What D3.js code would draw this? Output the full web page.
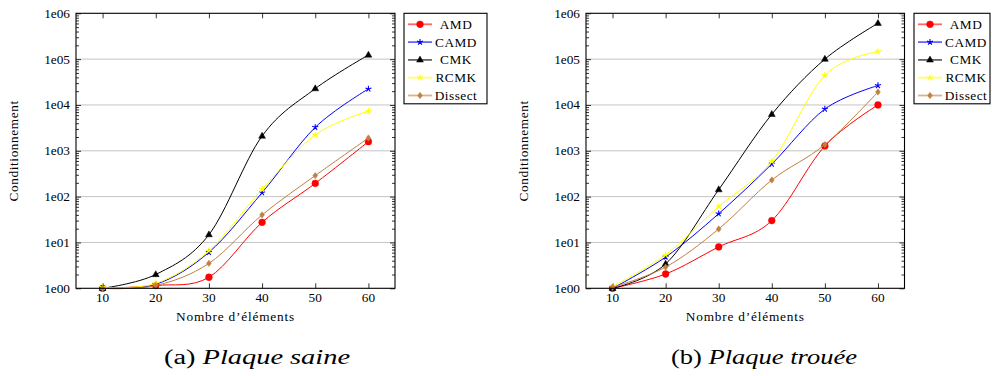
<!DOCTYPE html>
<html>
<head>
<meta charset="utf-8">
<script src="https://cdn.jsdelivr.net/npm/d3@7"></script>
<style>
  html, body { margin: 0; padding: 0; background: #fff; }
  svg { display: block; }
</style>
</head>
<body>
<svg id="chart" width="992" height="376" font-family="'Liberation Serif', 'Times New Roman', Tinos, 'DejaVu Serif', serif"></svg>
<script>
// ---------- data ----------
const xValues = [10, 20, 30, 40, 50, 60];
const xTickLabels = ["10", "20", "30", "40", "50", "60"];
const yTickValues = [1, 10, 100, 1000, 10000, 100000, 1000000];
const yTickLabels = ["1e00", "1e01", "1e02", "1e03", "1e04", "1e05", "1e06"];
const seriesNames = ["AMD", "CAMD", "CMK", "RCMK", "Dissect"];

// (a) Plaque saine
const saineAMD     = [1, 1.15, 1.74, 27.5, 195, 1585];
const saineCAMD    = [1, 1.22, 6.1, 122, 3250, 22400];
const saineCMK     = [1, 2.0, 14.8, 2100, 22700, 123000];
const saineRCMK    = [1.05, 1.28, 6.6, 145, 2230, 7300];
const saineDissect = [1, 1.15, 3.5, 40, 288, 1900];

// (b) Plaque trouée
const troueeAMD     = [1, 2.05, 8, 30, 1275, 10000];
const troueeCAMD    = [1, 4.8, 42.5, 515, 8150, 26500];
const troueeCMK     = [1, 3.4, 142, 6250, 100000, 605000];
const troueeRCMK    = [1.1, 5.4, 61, 590, 44500, 146000];
const troueeDissect = [1.05, 2.9, 19.7, 230, 1365, 19200];

const captionA = ["(a) ", "Plaque saine"];
const captionB = ["(b) ", "Plaque trouée"];
const xTitle = "Nombre d’éléments";
const yTitle = "Conditionnement";

// ---------- styles ----------
const FONT = "'Liberation Serif', 'Times New Roman', Tinos, 'DejaVu Serif', serif";
const colors = { AMD: "#ff0000", CAMD: "#0000ff", CMK: "#000000", RCMK: "#ffff00", Dissect: "#bf8040" };
const marks  = { AMD: "circle", CAMD: "star", CMK: "triangle", RCMK: "star", Dissect: "diamond" };

const svg = d3.select("#chart");

function markPath(type, r) {
  const p = d3.path();
  if (type === "circle") {
    p.arc(0, 0, r, 0, 2 * Math.PI);
  } else if (type === "triangle") {
    p.moveTo(0, -r * 1.05);
    p.lineTo(r * 0.95, r * 0.6);
    p.lineTo(-r * 0.95, r * 0.6);
    p.closePath();
  } else if (type === "diamond") {
    p.moveTo(0, -r);
    p.lineTo(r * 0.75, 0);
    p.lineTo(0, r);
    p.lineTo(-r * 0.75, 0);
    p.closePath();
  } else if (type === "star") {
    for (let k = 0; k < 5; k++) {
      const a = -Math.PI / 2 + k * 2 * Math.PI / 5;
      p.moveTo(0, 0);
      p.lineTo(r * Math.cos(a), r * Math.sin(a));
    }
  }
  return p.toString();
}

function drawMark(g, type, color, x, y) {
  const r = type === "circle" ? 3.4 : type === "triangle" ? 3.6 : 3.2;
  const el = g.append("path")
    .attr("d", markPath(type, r))
    .attr("transform", `translate(${x},${y})`);
  if (type === "star") {
    el.attr("fill", "none").attr("stroke", color).attr("stroke-width", 1.1);
  } else {
    el.attr("fill", color).attr("stroke", color).attr("stroke-width", 0.5);
  }
}

function txt(g) {
  return g.append("text").attr("font-family", FONT).attr("fill", "#000");
}

function drawPanel(opts) {
  const { left, right, top, bottom, series, caption, captionX, legend } = opts;
  const g = svg.append("g");
  const x = d3.scaleLinear().domain([5, 65]).range([left, right]);
  const y = d3.scaleLog().domain([1, 1e6]).range([bottom, top]);

  // grid
  g.append("g").selectAll("line").data(yTickValues.slice(1, -1)).join("line")
    .attr("x1", left).attr("x2", right)
    .attr("y1", d => y(d)).attr("y2", d => y(d))
    .attr("stroke", "#c4c4c4").attr("stroke-width", 1);

  const minorTicks = [];
  for (let e = 0; e < 6; e++) for (let m = 2; m <= 9; m++) minorTicks.push(m * Math.pow(10, e));

  const yLeft = d3.axisRight(y).tickValues(yTickValues).tickFormat("").tickSize(5);
  const yLeftMinor = d3.axisRight(y).tickValues(minorTicks).tickFormat("").tickSize(3);
  const yRight = d3.axisLeft(y).tickValues(yTickValues).tickFormat("").tickSize(5);
  const yRightMinor = d3.axisLeft(y).tickValues(minorTicks).tickFormat("").tickSize(3);
  [[yLeft, left], [yLeftMinor, left], [yRight, right], [yRightMinor, right]].forEach(([ax, px]) => {
    const a = g.append("g").attr("transform", `translate(${px},0)`).call(ax);
    a.select(".domain").remove();
    a.selectAll("line").attr("stroke", "#000").attr("stroke-width", 0.8);
  });

  const xBottom = d3.axisTop(x).tickValues(xValues).tickFormat("").tickSize(5);
  const xTop = d3.axisBottom(x).tickValues(xValues).tickFormat("").tickSize(5);
  [[xBottom, bottom], [xTop, top]].forEach(([ax, py]) => {
    const a = g.append("g").attr("transform", `translate(0,${py})`).call(ax);
    a.select(".domain").remove();
    a.selectAll("line").attr("stroke", "#000").attr("stroke-width", 0.8);
  });

  // tick labels
  g.append("g").selectAll("text").data(yTickValues).join("text")
    .attr("font-family", FONT)
    .attr("x", left - 6).attr("y", d => y(d)).attr("dy", "0.34em")
    .attr("text-anchor", "end").attr("font-size", 13.3)
    .text((d, i) => yTickLabels[i]);
  g.append("g").selectAll("text").data(xValues).join("text")
    .attr("font-family", FONT)
    .attr("x", d => x(d)).attr("y", bottom + 14)
    .attr("text-anchor", "middle").attr("font-size", 13.3)
    .text((d, i) => xTickLabels[i]);

  // axis titles
  txt(g).attr("x", (left + right) / 2).attr("y", bottom + 33)
    .attr("text-anchor", "middle").attr("font-size", 13.3).attr("letter-spacing", 0.8)
    .text(xTitle);
  txt(g)
    .attr("transform", `translate(${left - 58},${(top + bottom) / 2}) rotate(-90)`)
    .attr("text-anchor", "middle").attr("font-size", 13.3).attr("letter-spacing", 0.6)
    .text(yTitle);

  // series
  const line = d3.line().x(d => x(d[0])).y(d => y(d[1])).curve(d3.curveCardinal.tension(0));
  series.forEach(([name, vals]) => {
    const pts = xValues.map((xv, i) => [xv, vals[i]]);
    g.append("path").attr("d", line(pts)).attr("fill", "none")
      .attr("stroke", colors[name]).attr("stroke-width", 1);
    const mg = g.append("g");
    pts.forEach(p => drawMark(mg, marks[name], colors[name], x(p[0]), y(p[1])));
  });

  // frame
  g.append("rect").attr("x", left).attr("y", top).attr("width", right - left).attr("height", bottom - top)
    .attr("fill", "none").attr("stroke", "#000").attr("stroke-width", 1.1);

  // legend
  const lg = g.append("g");
  lg.append("rect").attr("x", legend.x).attr("y", legend.y).attr("width", legend.w).attr("height", legend.h)
    .attr("fill", "#fff").attr("stroke", "#000").attr("stroke-width", 1.1);
  seriesNames.forEach((name, i) => {
    const yy = legend.y + 11 + i * 17.8;
    lg.append("line").attr("x1", legend.x + 4).attr("x2", legend.x + 28)
      .attr("y1", yy).attr("y2", yy).attr("stroke", colors[name])
      .attr("stroke-width", 1.8).attr("stroke-opacity", 0.6);
    drawMark(lg, marks[name], colors[name], legend.x + 16, yy);
    txt(lg).attr("x", legend.x + legend.tx).attr("y", yy).attr("dy", "0.34em")
      .attr("text-anchor", "middle").attr("font-size", 13.3).attr("letter-spacing", 0.5)
      .text(name);
  });

  // caption
  const cap = txt(svg).attr("x", captionX).attr("y", 364)
    .attr("text-anchor", "middle").attr("font-size", 20)
    .attr("textLength", 186).attr("lengthAdjust", "spacingAndGlyphs");
  cap.append("tspan").text(caption[0]);
  cap.append("tspan").attr("font-style", "italic").text(caption[1]);
}

drawPanel({
  left: 76, right: 395, top: 13.3, bottom: 288.3,
  series: [["AMD", saineAMD], ["CAMD", saineCAMD], ["CMK", saineCMK], ["RCMK", saineRCMK], ["Dissect", saineDissect]],
  caption: captionA, captionX: 257,
  legend: { x: 404, y: 13.3, w: 83, h: 90.5, tx: 52 }
});
drawPanel({
  left: 586, right: 904.5, top: 13.3, bottom: 288.3,
  series: [["AMD", troueeAMD], ["CAMD", troueeCAMD], ["CMK", troueeCMK], ["RCMK", troueeRCMK], ["Dissect", troueeDissect]],
  caption: captionB, captionX: 764,
  legend: { x: 914, y: 13.3, w: 76, h: 90.5, tx: 52 }
});
</script>
</body>
</html>
